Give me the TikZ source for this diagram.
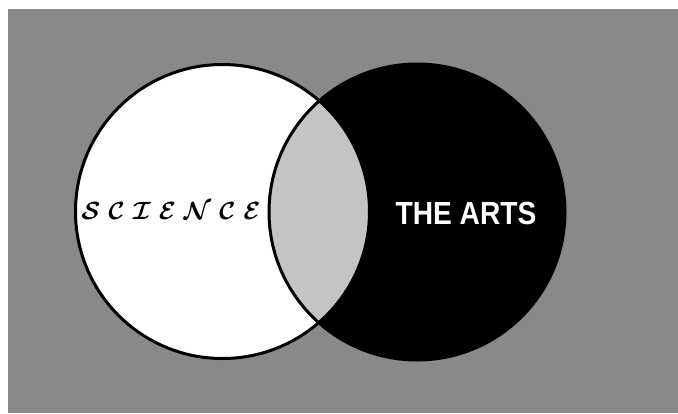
\documentclass[tikz,border=0pt]{standalone}
\usepackage{fontspec}
\usepackage{bm}
\newfontfamily\artsfont{Liberation Sans}
\definecolor{bggray}{HTML}{898989}
\definecolor{midgray}{HTML}{C4C4C4}
\begin{document}
\begin{tikzpicture}[x=1pt,y=-1pt,
  outline/.style={draw=black,line width=3pt},
  sciencelabel/.style={inner sep=0pt,text=black},
  artslabel/.style={inner sep=0pt,text=white,font=\artsfont\bfseries\fontsize{32}{32}\selectfont}]
\useasboundingbox (0,0) rectangle (678,413);
\fill[white] (0,0) rectangle (678,413);
\fill[bggray] (8,9) rectangle (678,413);
\coordinate (cl) at (222.5,211.5);
\coordinate (cr) at (417,212);
\fill[white] (cl) circle (147);
\fill[black] (cr) circle (148);
\begin{scope}
  \clip (cl) circle (147);
  \fill[midgray] (cr) circle (148);
\end{scope}
\draw[outline] (cl) circle (147);
\draw[outline] (cr) circle (148);
\node[sciencelabel] (sci) at (171,211) {\fontsize{28}{28}\selectfont$\bm{\mathcal{S}}\hspace{8pt}\bm{\mathcal{C}}\hspace{8pt}\bm{\mathcal{I}}\hspace{8pt}\bm{\mathcal{E}}\hspace{8pt}\bm{\mathcal{N}}\hspace{8pt}\bm{\mathcal{C}}\hspace{8pt}\bm{\mathcal{E}}$};
\node[artslabel] (arts) at (466,213) {\scalebox{0.88}[1]{THE ARTS}};
\end{tikzpicture}
\end{document}
